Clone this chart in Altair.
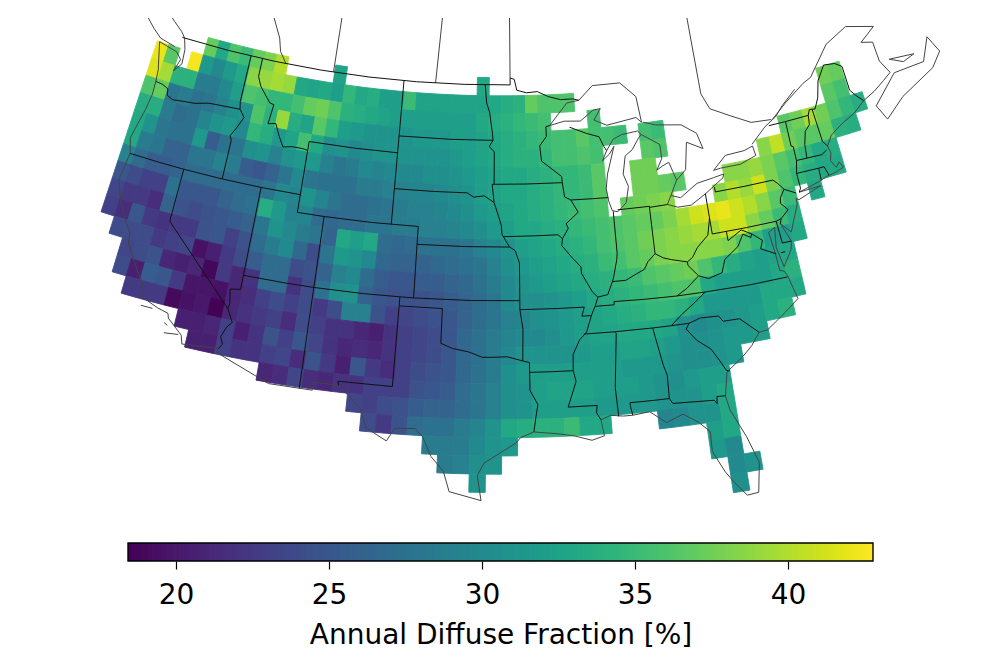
import altair as alt
import numpy as np

# ---- grid values: (first cell's west longitude, values eastward); key is row's centre latitude
R489 = [(-121, [37,33,36,35,37,38,40]), (-110, [32.5]), (-98, [33])]
R479 = [(-125, [42,36.5,None,42.5,31.5,30,31.5,33,38.5,39,39.5,39,33,32.5,33,32,34.5,33,33.5,32,32,35,32.5,32.5,32.5,32.5,32.5,32.5,33,33.5,34,37,36,36,36])]
R469 = [(-125, [41.5,39.5,34,34,28.5,28.5,30,32,36,35.5,34.5,34.5,35.5,37,37.5,36,34,33.5,33,32.5,32,32,32,32,32,32,32,33,33.5,34,34.5,35,35.5]), (-89, [35.5]), (-70, [37.5,37])]
R459 = [(-125, [36,37,28,28.5,27.5,28,29,30.5,31,36,34,39,33.5,32.5,36.5,34.5,32,31.5,31,31,31,31,31.5,31.5,31.5,32,32,32.5,33,33.5,34,34.5,35,35.5,35.5,36.5,35.5,35.5,35]), (-85, [35.5,35]), (-70, [36.5,35.5])]
R449 = [(-125, [33.5,33.5,28.5,27,27.5,29.5,31,31.5,30,34.5,33.5,31.5,32.5,35.5,33,30.5,31,30,30.5,31,31,31,31,31,31,31.5,32,32.5,33,33.5,34,34,34.5,35.5,35.5,36,35.5]), (-85, [36.5,36]), (-74, [36.5,37.5,39.5,37.5,36,34.5,33.5])]
R439 = [(-125, [33,31,28,27.5,27.5,31.5,25.5,27.5,28,30.5,31,29,31,31.5,31.5,29,28,28.5,30,29.5,30,30,30,30.5,30.5,31,31.5,32,32.5,33,33,33.5,34,34.5,34.5,35,36.5]), (-86, [37.5,37.5]), (-76, [38.5,40.5,37.5,36.5,36.5,37,34,33.5])]
R429 = [(-125, [33,28.5,28,26,26,28,28,29,28.5,25.5,25,26,28,30,28,27.5,27.5,27.5,28.5,28.5,29,29,29.5,29.5,30,30.5,31,32,32.5,33,33,33.5,34,34.5,34.5,35,36.5]), (-86, [37.5,37.5,37,36.5]), (-79, [38.5,38.5,39,38,36.5,35.5,34.5,33,33.5])]
R419 = [(-125, [29,27,25.5,25.5,26,27,27,27,27,27,27,28,30,29.5,31,29.5,28,27,27,27.5,28,28.5,29,29,29.5,30,30.5,31.5,32,32.5,33,33.5,34,34.5,35,35.5,36]), (-87, [37,37.5,38,38.5]), (-80, [38.5,40,39,41,38,36,34.5,33.5,33,33])]
R409 = [(-125, [25,24,23,23,27.5,25,25,25,26,27,27.5,33.5,31.5,29,29.5,27,26.5,27,27,28,28,28.5,28.5,29,29,29.5,30,30.5,31.5,32,33,33,33.5,34,34.5,35,35.5,36,36.5,37,37,38,39.5,41,41.5,42,41,40,38.5,36.5,35,None,33])]
R399 = [(-125, [23.5,22.5,22.5,21.5,26,24.5,24,24.5,25,25.5,26,28,31,30,28.5,28,26,33,32,33,27,26.5,27,27.5,27.5,27.5,28,29,30,31,32,32.5,33,33.5,34,34.5,35.5,36,36.5,37.5,38,38.5,39,39.5,39.5,41,41,38.5,37,35,33.5])]
R389 = [(-125, [23,21.5,25,22.5,22,22.5,22.5,24.5,25,23,24.5,27,28.5,30,26.5,24,28,31.5,31,30,26.5,26,26,26,26.5,27,27.5,28,29,30.5,31.5,32,32.5,33,33.5,34,35,35.5,36.5,37,38,38.5,38.5,38.5,38.5,38,36,34.5,32,32,33])]
R379 = [(-124, [24,24,24,22.5,23,23.5,19.5,20.5,22.5,24,25.5,27,27,24,24.5,26,29,30,27,25.5,25,25,25.5,25.5,26,26.5,27.5,28.5,30,31,31.5,32,32.5,33,33.5,34,34.5,35,36,36.5,37,37.5,36,34.5,33.5,32.5,32,32.5,33])]
R369 = [(-123, [23.5,24,24.5,21,20.5,21,18.8,22.5,21,22,27,27,22,24,27.5,30.5,31,26,25,24.5,24.5,24.5,25,25.5,26,27,28,30,30.5,30.5,31,31.5,32,33,33.5,34,34.5,35,35.5,36,36,33,32,32,32,32,33,34])]
R359 = [(-123, [24,20.5,25.5,25,22.5,19.8,19.8,19.5,21,21.5,23,24,23,24,22.5,24,29,29,24.5,23,23.5,24,24.5,25,26,27,28,29,29.5,30.5,31,31.5,32,32.5,33,33.5,34,34.5,34.5,34,33,31.5,31.5,31.5,31.5,33,33,33])]
R349 = [(-122, [22.5,22.5,22.5,19,19.5,20,18.5,21,22,22.5,23,21.5,24,23,22,22,21,20.5,22,23,23.5,24,25,26.5,27.5,28.5,29.5,30,30,30.5,31.5,32,32.5,32.5,33,33,33,32.5,30.5,30,30.5,31,31.5,32,33,34])]
R339 = [(-118, [20.5,20.5,21,23,20.5,22,24.5,23,25,23.5,22,21,21.5,21,22,23,23.5,24,25,26.5,27.5,28.5,30,31,31,31,31,31.5,32,32,32.5,32.5,32,31.5,30.5,30.5,31,31.5,31.5,32])]
R329 = [(-117, [20.5,20.5,23,22,22,23,23.5,21.5,24.5,22.5,20.5,25,22.5,21.5,23,24,24.5,25,26.5,27.5,28.5,30.5,31.5,32,32,32,32,32,32,31.5,31.5,31.5,31,30.5,30.5,31,31.5])]
R319 = [(-112, [21,21.5,23.5,21.5,21,22,22,23,23,23,24.5,25,25.5,27,28,29,30.5,31,32,32.5,32.5,32.5,32,32,32,31.5,31,30.5,31.5,32,32])]
R309 = [(-106, [23.5,23,24,24.5,25.5,26,26,27,28,29,30.5,31,32,32,32,32,31.5,31.5,31.5,31.5,31,31,31,32,33])]
R299 = [(-105, [24,22.5,24.5,27,27.5,27.5,28.5,29.5,31,33,33.5,34,34,35,33,33]), (-86, [29.5,30,31,31,33])]
R289 = [(-101, [28.5,28.5,28.5,30,31,31.5]), (-83, [32,33])]
R279 = [(-100, [28.5,29,30.5,31]), (-83, [31.5,30])]
R269 = [(-98, [31]), (-82, [30,31])]
R259 = [(-82, [30.5])]
ROWS = {48.9:R489,47.9:R479,46.9:R469,45.9:R459,44.9:R449,43.9:R439,42.9:R429,41.9:R419,40.9:R409,39.9:R399,
        38.9:R389,37.9:R379,36.9:R369,35.9:R359,34.9:R349,33.9:R339,32.9:R329,31.9:R319,30.9:R309,29.9:R299,
        28.9:R289,27.9:R279,26.9:R269,25.9:R259}
LON_SHIFT = 0.1

# ---- outlines (lon, lat)
STATES = [
 [(-124.0,46.25),(-123.4,46.2),(-122.9,46.05),(-122.8,45.7),(-122.3,45.55),(-121.2,45.65),(-120.5,45.7),(-119.5,45.9),(-119,45.93),(-116.92,46.0)],
 [(-117.04,49),(-117.04,46.42),(-116.92,46.0),(-116.46,45.6),(-116.85,44.95),(-117.2,44.45),(-117.03,44.2),(-117.03,42)],
 [(-124.2,42),(-122,42),(-120,42),(-117.03,42),(-114.04,42),(-111.05,42)],
 [(-120,42),(-120,39),(-114.63,35.0),(-114.15,34.3),(-114.45,34.0),(-114.72,33.4),(-114.5,33.0),(-114.72,32.72)],
 [(-114.63,35.0),(-114.57,35.3),(-114.75,36.1),(-114.05,36.2),(-114.04,37),(-114.04,42)],
 [(-114.04,37),(-111,37),(-109.05,37),(-105.5,37),(-102.04,37),(-98,37),(-94.62,37)],
 [(-109.05,41),(-109.05,37),(-109.05,31.33)],
 [(-103.0,37),(-103.04,32),(-106.62,32),(-106.53,31.78)],
 [(-111.05,45),(-111.05,41),(-109.05,41),(-105.5,41),(-102.05,41),(-102.05,40),(-102.04,37)],
 [(-104.05,41),(-104.05,49)],
 [(-111.05,45),(-107.5,45),(-104.05,45)],
 [(-116.05,49),(-116.05,48),(-115.7,47.5),(-114.7,46.7),(-114.35,46.65),(-114.5,45.55),(-113.9,45.65),(-113.45,45.0),(-113,44.45),(-112.3,44.55),(-111.5,44.55),(-111.05,44.5)],
 [(-104.05,43),(-101,43),(-98.5,43),(-98.0,42.77),(-97.2,42.85),(-96.45,42.49),(-96.1,41.7),(-95.9,41.2),(-95.85,40.7),(-95.3,40.0),(-94.9,39.8),(-94.6,39.1),(-94.62,36.5),(-94.43,35.4),(-94.48,33.64)],
 [(-104.05,45.94),(-100,45.94),(-96.56,45.94)],
 [(-97.23,49),(-97.1,48),(-96.85,47.5),(-96.6,46.3),(-96.56,45.94),(-96.85,45.6),(-96.45,45.3),(-96.45,43.5),(-96.6,43.5),(-96.45,42.49)],
 [(-96.45,43.5),(-94,43.5),(-91.22,43.5)],
 [(-102.05,40),(-98.5,40),(-95.3,40.0)],
 [(-95.77,40.58),(-93.5,40.6),(-91.73,40.61),(-91.42,40.38)],
 [(-103,36.5),(-100,36.5),(-100,34.56),(-99.2,34.3),(-98.1,34.13),(-97.2,33.85),(-96.6,33.85),(-95.5,33.88),(-94.48,33.64),(-94.04,33.55),(-94.04,32),(-93.55,31.2),(-93.7,30.5),(-93.85,29.7)],
 [(-94.04,33),(-92.5,33),(-91.15,33)],
 [(-94.62,36.5),(-92,36.5),(-90.15,36.5),(-90.35,36.0),(-89.7,36)],
 [(-92.0,46.7),(-92.3,46.65),(-92.3,46.1),(-92.85,45.6),(-92.75,44.75),(-91.25,43.85),(-91.22,43.5),(-91.1,42.7),(-90.64,42.51),(-90.15,41.8),(-91.1,41.2),(-90.95,40.95),(-91.42,40.38),(-91.5,40.0),(-90.75,39.25),(-90.2,38.75),(-90.2,38.4),(-89.5,37.3),(-89.15,37.0),(-89.4,36.5),(-89.7,36.0),(-90.1,35.1),(-90.6,34.7),(-91.1,33.9),(-91.15,33),(-91.0,32.4),(-91.6,31.0),(-89.73,31),(-89.8,30.6),(-89.55,30.2)],
 [(-90.4,46.55),(-89.1,46.15),(-88.1,45.9),(-87.8,45.35),(-87.6,45.1)],
 [(-90.64,42.51),(-89,42.5),(-87.8,42.49)],
 [(-87.53,41.7),(-87.53,39.35),(-87.6,39.0),(-87.95,38.0),(-88.05,37.8)],
 [(-87.2,41.76),(-84.8,41.76),(-84.81,41.7),(-83.45,41.73)],
 [(-84.81,41.7),(-84.82,39.1)],
 [(-89.15,37.0),(-88.45,37.1),(-88.05,37.8),(-87.1,37.8),(-86.3,38.1),(-85.7,38.3),(-85.4,38.7),(-84.82,39.1),(-84.25,38.8),(-83.7,38.65),(-82.6,38.4),(-82.2,38.6),(-81.75,39.1),(-80.85,39.7),(-80.6,40.4),(-80.52,40.64)],
 [(-89.4,36.5),(-88.07,36.5),(-88.06,36.68),(-86,36.64),(-83.67,36.6),(-81.68,36.59),(-78.5,36.55),(-75.87,36.55)],
 [(-83.67,36.6),(-82.9,36.95),(-81.97,37.54),(-82.6,38.2),(-82.6,38.4)],
 [(-81.97,37.54),(-81.3,37.3),(-80.3,37.5),(-79.95,38.2),(-78.87,38.77),(-78.35,39.4),(-77.83,39.13),(-77.72,39.32)],
 [(-79.48,39.72),(-79.48,39.2),(-78.4,39.65),(-77.72,39.32),(-77.05,38.85),(-77.3,38.4),(-76.3,37.95)],
 [(-80.52,42.0),(-80.52,39.72),(-78,39.72),(-75.79,39.72),(-75.7,38.46),(-75.05,38.45)],
 [(-79.76,42.27),(-79.76,42.0),(-77.5,42.0),(-75.35,42.0),(-75.05,41.75),(-74.7,41.36),(-73.9,41.0)],
 [(-74.7,41.36),(-75.1,40.95),(-75.2,40.65),(-74.75,40.2),(-75.4,39.8),(-75.55,39.5)],
 [(-75.79,39.72),(-75.4,39.8)],
 [(-75.95,37.95),(-75.65,37.95)],
 [(-84.32,35),(-83.5,35.55),(-82.6,36.05),(-81.68,36.59)],
 [(-90.3,35),(-88.2,35),(-85.6,35),(-84.32,35),(-83.11,35),(-82.3,35.2),(-81.05,35.15),(-80.8,34.82),(-79.67,34.8),(-78.55,33.86)],
 [(-83.11,35),(-83.35,34.7),(-82.75,34.0),(-81.9,33.4),(-81.4,32.6),(-81.12,32.1),(-80.9,32.03)],
 [(-88.2,35),(-88.1,34.9),(-88.47,31.9),(-88.4,30.3)],
 [(-85.6,35),(-85.18,32.87),(-85.0,32.3),(-85.05,31.0),(-84.86,30.71),(-82.2,30.57),(-82.05,30.36),(-82.0,30.75),(-81.45,30.72)],
 [(-87.6,30.85),(-87.6,31),(-86,31),(-85.05,31.0)],
 [(-87.6,30.85),(-87.5,30.3)],
 [(-73.35,45.0),(-73.4,43.6),(-73.25,43.55),(-73.27,42.75),(-73.5,42.05),(-73.49,41.2),(-73.65,41.0)],
 [(-71.5,45.01),(-71.6,44.5),(-72.05,44.2),(-72.35,43.5),(-72.46,42.73)],
 [(-71.08,45.3),(-70.98,43.4),(-70.7,43.07)],
 [(-73.27,42.75),(-71.3,42.7),(-70.85,42.88)],
 [(-73.5,42.05),(-71.8,42.02),(-71.38,42.02),(-71.2,41.5)],
 [(-71.8,42.02),(-71.85,41.32)],
 [(-123.0,49),(-119,49),(-115,49),(-111,49),(-107,49),(-103,49),(-99,49),(-95.15,49),(-95.15,49.38),(-94.8,49.3),(-94.6,48.7),(-93.8,48.55),(-92.9,48.6),(-92.0,48.3),(-91.0,48.1),(-90.0,48.1),(-89.5,48.0)],
 [(-74.7,45),(-73.35,45.0),(-71.5,45.01),(-71.3,45.3),(-70.85,45.25),(-70.4,45.8),(-70.0,46.7),(-69.2,47.45),(-68.3,47.35),(-67.8,47.07),(-67.8,45.7),(-67.45,45.3),(-67,44.9)],
]
COASTS = [
 [(-122.8,49),(-122.5,48.4),(-122.4,47.6),(-122.9,47.1),(-122.6,47.8),(-123.1,48.15),(-124.7,48.4),(-124.1,46.9),(-124.0,46.25),(-123.95,45.5),(-124.1,44.6),(-124.55,42.85),(-124.2,42),(-124.4,40.45),(-123.8,39.3),(-123.0,38.3),(-122.5,37.75),(-122.4,37.2),(-121.9,36.6),(-120.65,35.15),(-120.6,34.55),(-119.25,34.15),(-118.5,34.0),(-118.4,33.75),(-117.3,33.0),(-117.12,32.53)],
 [(-123.4,48.4),(-124.7,48.6),(-125.5,49.0),(-126.5,49.6)],
 [(-122.8,49),(-123.2,49.3),(-124,49.7),(-125,50.2),(-126,50.6)],
 [(-120.4,34.05),(-119.6,34.05)],
 [(-118.6,33.45),(-118.35,33.35)],
 [(-117.5,33.0),(-118.45,32.9)],
 [(-117.12,32.53),(-114.72,32.72),(-114.8,32.5),(-111.07,31.33),(-108.2,31.33),(-108.2,31.78),(-106.53,31.78),(-105.0,30.65),(-104.5,29.6),(-103.15,28.98),(-102.7,29.7),(-101.4,29.77),(-100.9,29.35),(-100.3,28.28),(-99.5,27.5),(-99.1,26.4),(-97.15,25.95)],
 [(-97.15,25.95),(-97.4,27.3),(-97.0,28.0),(-95.0,29.1),(-94.7,29.4),(-93.85,29.7),(-92.3,29.55),(-91.3,29.4),(-90.2,29.1),(-89.4,29.3),(-89.55,30.2),(-88.9,30.4),(-88.1,30.3),(-87.5,30.3),(-86.4,30.4),(-85.4,29.7),(-84.3,30.05),(-83.4,29.5),(-82.75,28.9),(-82.8,27.8),(-82.2,26.6),(-81.75,25.95),(-81.1,25.15),(-80.4,25.2),(-80.05,26.8),(-80.55,28.3),(-81.3,29.9),(-81.45,30.7),(-81.1,32.0),(-79.9,32.7),(-79.2,33.2),(-78.55,33.86),(-77.95,33.9),(-76.55,34.65),(-75.5,35.25),(-75.85,36.6),(-76.0,36.9),(-76.3,37.0),(-76.35,38),(-76.5,39.2),(-76.0,39.4),(-76.2,38.3),(-75.95,37.15),(-75.2,38.0),(-75.05,38.45),(-75.5,39.5),(-74.9,38.95),(-74.0,40.4),(-74.0,40.7),(-73.8,40.6),(-72.0,41.05),(-73.65,41.0),(-72,41.3),(-71.4,41.45),(-70.65,41.55),(-70.0,41.7),(-70.2,42.05),(-70.5,41.8),(-70.8,42.25),(-70.6,42.65),(-70.7,43.07),(-70.2,43.6),(-69,44.1),(-68,44.4),(-67,44.9),(-66.0,45.2),(-65.0,45.6),(-64.3,45.9),(-64.8,46.7),(-64.8,47.8),(-65.7,48),(-64.3,48.6),(-66.5,49.1),(-68.5,48.5),(-70.5,47.0),(-71.2,46.8),(-73,46.0),(-74.3,45.3)],
 [(-64,45.8),(-66.2,44.4),(-65.7,43.5),(-64,44.4),(-61,45.3),(-60,46),(-60.5,47),(-61.5,45.8),(-64,45.8)],
 [(-64,46.6),(-62,46.4),(-63,46.2),(-64,46.6)],
 [(-92.0,46.7),(-90.8,46.9),(-89.5,46.85),(-88.4,47.4),(-87.8,47.45),(-88.4,46.85),(-87.4,46.5),(-85.0,46.75),(-84.6,46.45),(-84.8,47.9),(-86,48.75),(-88.3,48.75),(-89.5,48.0),(-90.5,47.9),(-92.0,46.7)],
 [(-87.6,41.75),(-87.2,41.65),(-86.5,42.1),(-86.2,43.0),(-86.5,43.7),(-86.2,44.7),(-85.6,45.0),(-85.0,45.6),(-84.75,45.78),(-85.0,46),(-86.3,45.9),(-87.0,45.7),(-87.6,45.1),(-88,44.55),(-87.4,44.9),(-87.0,45.3),(-87.7,43.8),(-87.9,43),(-87.8,42.3),(-87.6,41.75)],
 [(-84.75,45.78),(-83.4,45.1),(-83.4,44.3),(-83.9,43.7),(-83.4,43.9),(-82.9,44.05),(-82.5,43),(-83.1,42.2),(-83.45,41.73)],
 [(-82.5,43),(-81.7,43.5),(-81.3,45.0),(-80.1,44.5),(-80.4,45.4),(-81.5,46.0),(-83.5,46.2),(-84.5,46.45)],
 [(-83.45,41.73),(-82.7,41.5),(-81.7,41.5),(-80.5,42),(-79.0,42.7),(-78.9,42.9),(-79.7,42.8),(-81,42.65),(-82.4,42.0),(-83.1,42.2)],
 [(-79.05,43.25),(-77.5,43.25),(-76.2,43.55),(-76.3,44.1),(-77.0,43.95),(-78.5,43.9),(-79.6,43.2),(-79.05,43.25)],
 [(-76.3,44.2),(-75,45),(-74,45.4),(-73.3,45.9),(-72,46.6)],
 [(-110,49),(-110,53)],
 [(-101.4,49),(-101.1,53)],
 [(-95.15,49.38),(-95.15,53)],
 [(-114.05,49),(-114.7,49.6),(-115,50.3),(-116,51.5)],
 [(-79.5,52),(-79.5,47.5),(-79.0,46.6),(-77.5,46),(-76,45.4),(-74.4,45.3)],
]

# ---- colourbar
CB_MIN, CB_MAX = 18.43, 42.78
CB_TICKS = [20, 25, 30, 35, 40]
CB_TITLE = "Annual Diffuse Fraction [%]"

features = []
for lat, segs in ROWS.items():
    for west, vals in segs:
        for i, v in enumerate(vals):
            if v is None:
                continue
            w = west + i + LON_SHIFT
            e = w + 1
            s = lat - 0.5
            n = lat + 0.5
            features.append({"type": "Feature", "properties": {"v": v},
                             "geometry": {"type": "Polygon",
                                          "coordinates": [[[w, s], [w, n], [e, n], [e, s], [w, s]]]}})

def lines(ls):
    return [{"type": "Feature", "properties": {},
             "geometry": {"type": "LineString", "coordinates": [list(p) for p in l]}} for l in ls]

cscale = alt.Scale(scheme="viridis", domain=[CB_MIN, CB_MAX])
cells = alt.Chart(alt.Data(values=features)).mark_geoshape(strokeWidth=0.9, clip=True).encode(
    fill=alt.Fill("properties.v:Q", scale=cscale, legend=None),
    stroke=alt.Stroke("properties.v:Q", scale=cscale, legend=None),
)
coast = alt.Chart(alt.Data(values=lines(COASTS))).mark_geoshape(filled=False, stroke="#444444", strokeWidth=1.0, clip=True)
state = alt.Chart(alt.Data(values=lines(STATES))).mark_geoshape(filled=False, stroke="#111111", strokeWidth=1.0, clip=True)

m = alt.layer(cells, coast, state).project(type="conicConformal", parallels=[33, 45], rotate=[96, 0, 0], center=[0, 39],
                      scale=1032, translate=[492, 247]).properties(width=983, height=497)

steps = np.linspace(CB_MIN, CB_MAX, 250)
d = (CB_MAX - CB_MIN) / 249
bar_vals = [{"a": float(s), "b": float(min(s + d * 2, CB_MAX))} for s in steps[:-1]]
xscale = alt.Scale(domain=[CB_MIN, CB_MAX], range=[120, 865], nice=False, zero=False)
cb_axis = alt.Axis(values=CB_TICKS, title=CB_TITLE, tickSize=8, tickWidth=1.2,
            tickColor="black", domain=False, grid=False, labelFontSize=28, titleFontSize=28,
            labelFont="DejaVu Sans", titleFont="DejaVu Sans", labelColor="black", titleColor="black",
            titleFontWeight="normal", labelPadding=12, titlePadding=12, format="d")
bar = alt.Chart(alt.Data(values=bar_vals)).mark_rect().encode(
    x=alt.X("a:Q", scale=xscale, axis=cb_axis),
    x2="b:Q",
    color=alt.Color("a:Q", scale=cscale, legend=None),
)
frame = alt.Chart(alt.Data(values=[{"a": CB_MIN, "b": CB_MAX}])).mark_rect(fill=None, stroke="black", strokeWidth=1.4).encode(
    x=alt.X("a:Q", scale=xscale, axis=cb_axis), x2="b:Q")
cb = alt.layer(bar, frame).properties(width=983, height=18)

chart = alt.vconcat(m, cb, spacing=27).resolve_scale(color="independent").properties(
    padding={"left": 0, "top": 10, "right": 0, "bottom": 0}
).configure_view(stroke=None)

chart.save("out.html", embed_options={"renderer": "svg", "actions": False})
